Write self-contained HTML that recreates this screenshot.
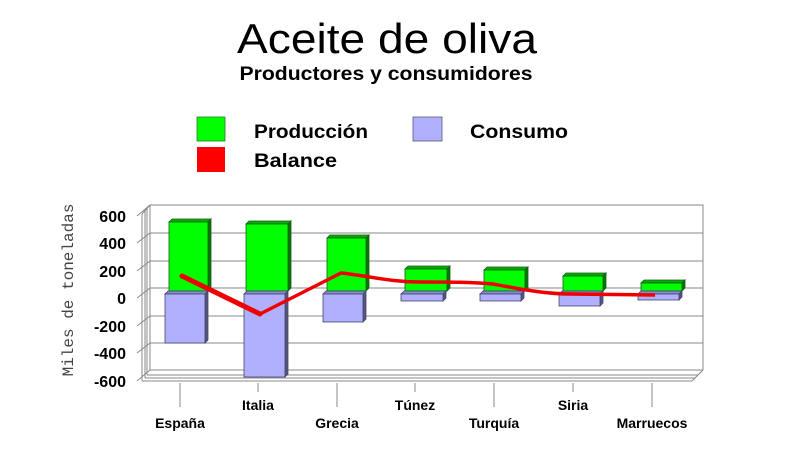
<!DOCTYPE html>
<html><head><meta charset="utf-8"><style>
html,body{margin:0;padding:0;background:#fff;}
svg{display:block;font-family:"Liberation Sans",Arial,sans-serif;}
</style></head><body>
<svg width="800" height="470" viewBox="0 0 800 470" xmlns="http://www.w3.org/2000/svg">
<rect width="800" height="470" fill="#fff"/>
<text x="387" y="53" font-size="42" text-anchor="middle" textLength="300" lengthAdjust="spacingAndGlyphs">Aceite de oliva</text>
<text x="386" y="80" font-size="19" font-weight="bold" text-anchor="middle" textLength="293" lengthAdjust="spacingAndGlyphs">Productores y consumidores</text>
<rect x="197" y="117" width="28" height="24" fill="#00ff00" stroke="#2a7a2a" stroke-width="0.8"/>
<text x="254" y="138" font-size="19" font-weight="bold" textLength="114" lengthAdjust="spacingAndGlyphs">Producción</text>
<rect x="413" y="117" width="29" height="24" fill="#b0b0ff" stroke="#555577" stroke-width="0.8"/>
<text x="470" y="138" font-size="19" font-weight="bold" textLength="98" lengthAdjust="spacingAndGlyphs">Consumo</text>
<rect x="197" y="147" width="28" height="25" fill="#ff0000"/>
<text x="254" y="167" font-size="19" font-weight="bold" textLength="83" lengthAdjust="spacingAndGlyphs">Balance</text>

<g stroke="#888" stroke-width="1" fill="none">
<polyline points="150,205 703,205 703,370"/>
<line x1="150" y1="205" x2="150" y2="370"/>
<line x1="142" y1="214" x2="142" y2="381"/>
<line x1="145" y1="211" x2="145" y2="378"/>
<line x1="147" y1="208" x2="147" y2="375"/>
<line x1="142" y1="214" x2="150" y2="205"/>
<line x1="150" y1="233" x2="703" y2="233"/>
<line x1="150" y1="261" x2="703" y2="261"/>
<line x1="150" y1="288" x2="703" y2="288"/>
<line x1="150" y1="316" x2="703" y2="316"/>
<line x1="150" y1="343" x2="703" y2="343"/>
<line x1="150" y1="370" x2="703" y2="370"/>
<line x1="137" y1="216" x2="150" y2="205"/>
<line x1="137" y1="243" x2="150" y2="233"/>
<line x1="137" y1="271" x2="150" y2="261"/>
<line x1="137" y1="298" x2="150" y2="288"/>
<line x1="137" y1="326" x2="150" y2="316"/>
<line x1="137" y1="353" x2="150" y2="343"/>
<line x1="137" y1="381" x2="150" y2="370"/>
<line x1="142" y1="381" x2="692" y2="381"/>
<line x1="145" y1="378" x2="695" y2="378"/>
<line x1="147" y1="375" x2="698" y2="375"/>
<line x1="692" y1="381" x2="703" y2="370"/>
</g>
<g stroke="#888" stroke-width="1">
<line x1="180" y1="383" x2="180" y2="407"/><line x1="258" y1="383" x2="258" y2="392"/>
<line x1="337" y1="383" x2="337" y2="407"/><line x1="415" y1="383" x2="415" y2="392"/>
<line x1="494" y1="383" x2="494" y2="407"/><line x1="573" y1="383" x2="573" y2="392"/>
<line x1="652" y1="383" x2="652" y2="407"/>
</g>
<g font-size="16" font-weight="bold" text-anchor="end">
<text x="126" y="222">600</text><text x="126" y="249">400</text><text x="126" y="277">200</text>
<text x="126" y="304">0</text><text x="126" y="332">-200</text><text x="126" y="359">-400</text><text x="126" y="387">-600</text>
</g>
<text transform="translate(73,290) rotate(-90)" font-family="Liberation Mono,monospace" font-size="16" fill="#444" text-anchor="middle">Miles de toneladas</text>
<g font-size="14" font-weight="bold" text-anchor="middle">
<text x="180" y="428">España</text><text x="258" y="410">Italia</text><text x="337" y="428">Grecia</text>
<text x="415" y="410">Túnez</text><text x="494" y="428">Turquía</text><text x="573" y="410">Siria</text>
<text x="652" y="428">Marruecos</text>
</g>

<g stroke="#1a5a1a" stroke-width="0.8">
<polygon points="169,222 172,219 211,219 208,222" fill="#00b000"/><polygon points="208,222 211,219 211,288 208,291" fill="#007a00"/><rect x="169" y="222" width="39" height="69" fill="#00ff00"/>
<polygon points="246,224 249,221 291,221 288,224" fill="#00b000"/><polygon points="288,224 291,221 291,288 288,291" fill="#007a00"/><rect x="246" y="224" width="42" height="67" fill="#00ff00"/>
<polygon points="327,238 330,235 369,235 366,238" fill="#00b000"/><polygon points="366,238 369,235 369,288 366,291" fill="#007a00"/><rect x="327" y="238" width="39" height="53" fill="#00ff00"/>
<polygon points="405,269 408,266 450,266 447,269" fill="#00b000"/><polygon points="447,269 450,266 450,288 447,291" fill="#007a00"/><rect x="405" y="269" width="42" height="22" fill="#00ff00"/>
<polygon points="484,270 487,267 528,267 525,270" fill="#00b000"/><polygon points="525,270 528,267 528,288 525,291" fill="#007a00"/><rect x="484" y="270" width="41" height="21" fill="#00ff00"/>
<polygon points="563,276 566,273 606,273 603,276" fill="#00b000"/><polygon points="603,276 606,273 606,288 603,291" fill="#007a00"/><rect x="563" y="276" width="40" height="15" fill="#00ff00"/>
<polygon points="641,283 644,280 685,280 682,283" fill="#00b000"/><polygon points="682,283 685,280 685,288 682,291" fill="#007a00"/><rect x="641" y="283" width="41" height="8" fill="#00ff00"/>
</g>
<g stroke="#444466" stroke-width="0.8">
<polygon points="165,294 168,291 208,291 205,294" fill="#8888cc"/><polygon points="205,294 208,291 208,340 205,343" fill="#555580"/><rect x="165" y="294" width="40" height="49" fill="#b0b0ff"/>
<polygon points="244,294 247,291 288,291 285,294" fill="#8888cc"/><polygon points="285,294 288,291 288,374 285,377" fill="#555580"/><rect x="244" y="294" width="41" height="83" fill="#b0b0ff"/>
<polygon points="323,294 326,291 366,291 363,294" fill="#8888cc"/><polygon points="363,294 366,291 366,319 363,322" fill="#555580"/><rect x="323" y="294" width="40" height="28" fill="#b0b0ff"/>
<polygon points="401,294 404,291 446,291 443,294" fill="#8888cc"/><polygon points="443,294 446,291 446,298 443,301" fill="#555580"/><rect x="401" y="294" width="42" height="7" fill="#b0b0ff"/>
<polygon points="480,294 483,291 524,291 521,294" fill="#8888cc"/><polygon points="521,294 524,291 524,298 521,301" fill="#555580"/><rect x="480" y="294" width="41" height="7" fill="#b0b0ff"/>
<polygon points="559,294 562,291 603,291 600,294" fill="#8888cc"/><polygon points="600,294 603,291 603,303 600,306" fill="#555580"/><rect x="559" y="294" width="41" height="12" fill="#b0b0ff"/>
<polygon points="638,294 641,291 682,291 679,294" fill="#8888cc"/><polygon points="679,294 682,291 682,297 679,300" fill="#555580"/><rect x="638" y="294" width="41" height="6" fill="#b0b0ff"/>
</g>
<polyline points="182,276 260,314" fill="none" stroke="#ee0000" stroke-width="5" stroke-linecap="round"/>
<path d="M260,314 L341,273 C370,276 390,282 420,282 C450,282 470,282 493,284 C520,289 545,294 570,294 L655,295" fill="none" stroke="#ee0000" stroke-width="3.5" stroke-linejoin="round"/>
</svg>
</body></html>
